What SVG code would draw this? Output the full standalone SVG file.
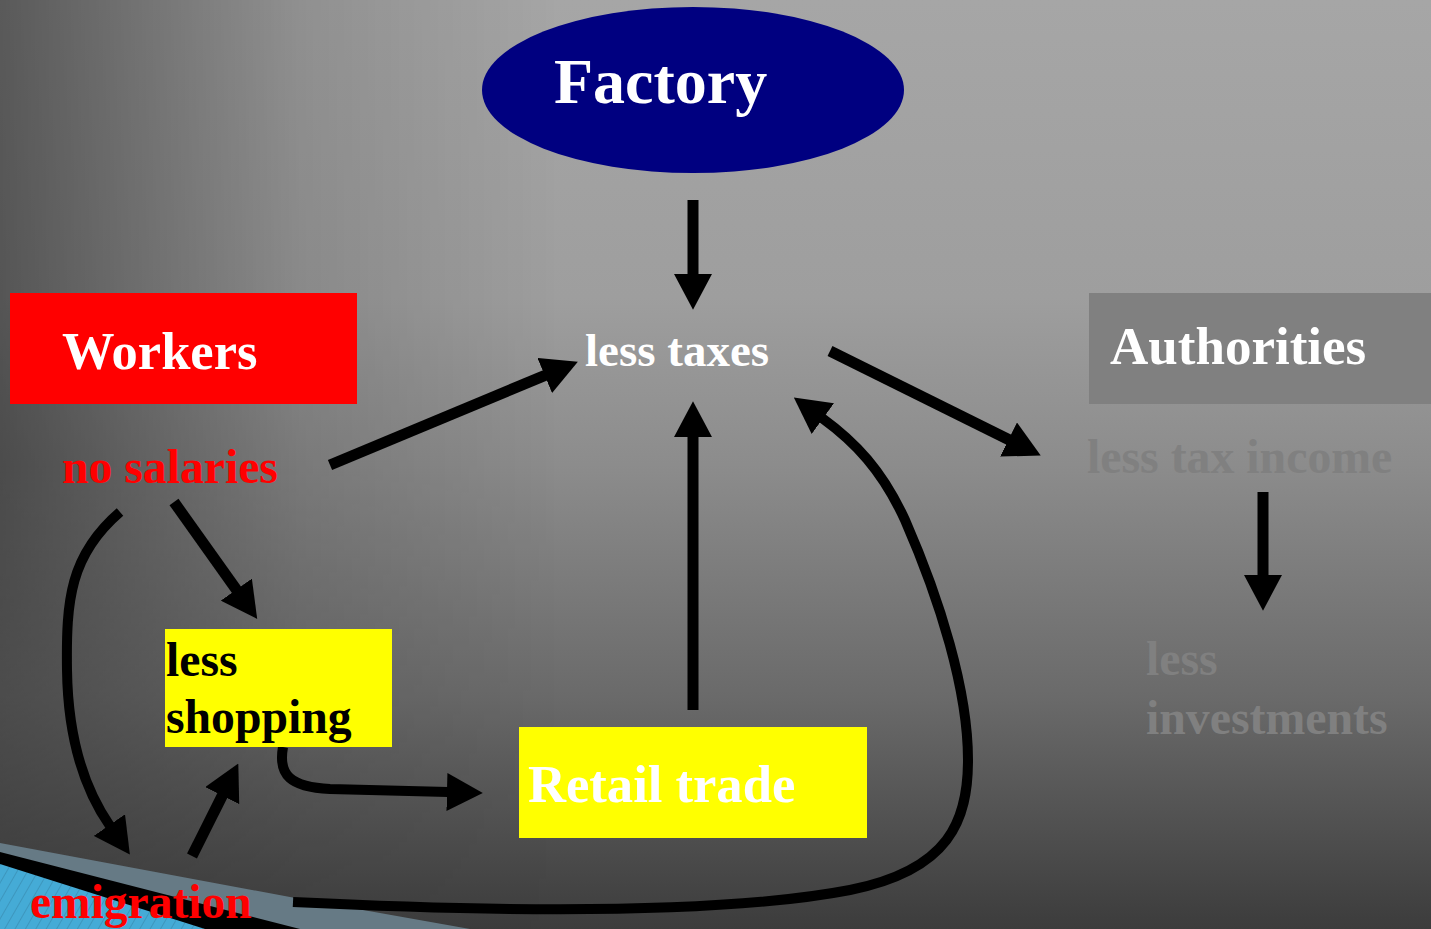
<svg xmlns="http://www.w3.org/2000/svg" width="1431" height="929" viewBox="0 0 1431 929">
<style>
.t{font-family:"Liberation Serif","Times New Roman",serif;font-weight:bold;}
.c{fill:none;stroke:#000;stroke-width:11;marker-end:url(#ah);}
.cc{fill:none;stroke:#000;stroke-width:10;marker-end:url(#ah);}
</style>
<defs>
<linearGradient id="bgv" x1="0" y1="0" x2="0" y2="1">
<stop offset="0" stop-color="#a6a6a6"/>
<stop offset="0.32" stop-color="#9e9e9e"/>
<stop offset="0.5" stop-color="#8c8c8c"/>
<stop offset="0.75" stop-color="#6a6a6a"/>
<stop offset="1" stop-color="#3c3c3c"/>
</linearGradient>
<linearGradient id="bgh" x1="0" y1="0" x2="1" y2="0">
<stop offset="0" stop-color="#000" stop-opacity="0.46"/>
<stop offset="0.21" stop-color="#000" stop-opacity="0.13"/>
<stop offset="0.39" stop-color="#000" stop-opacity="0"/>
<stop offset="1" stop-color="#000" stop-opacity="0"/>
</linearGradient>
<linearGradient id="mv" x1="0" y1="0" x2="0" y2="1">
<stop offset="0" stop-color="#fff"/>
<stop offset="0.5" stop-color="#fff"/>
<stop offset="0.65" stop-color="#ccc"/>
<stop offset="1" stop-color="#262626"/>
</linearGradient>
<mask id="vm"><rect width="1431" height="929" fill="url(#mv)"/></mask>
<pattern id="hatch" width="9" height="9" patternUnits="userSpaceOnUse" patternTransform="rotate(30)">
<rect width="9" height="9" fill="#45abd6"/>
<line x1="0" y1="0" x2="0" y2="9" stroke="#3a8fb5" stroke-width="1.5"/>
</pattern>
<marker id="ah" markerUnits="userSpaceOnUse" markerWidth="36" markerHeight="38" viewBox="0 0 34 36" refX="1" refY="18" orient="auto">
<path d="M0,0 L34,18 L0,36 z" fill="#000"/>
</marker>
</defs>
<rect width="1431" height="929" fill="url(#bgv)"/>
<rect width="1431" height="929" fill="url(#bgh)" mask="url(#vm)"/>
<g id="decoration">
<polygon points="0,843 290,897 470,929 0,929" fill="#667a85"/>
<polygon points="0,852 300,929 0,929" fill="#000"/>
<polygon points="0,864 205,929 0,929" fill="url(#hatch)"/>
</g>
<g id="connectors">
<line class="c" x1="693" y1="200" x2="693" y2="275"/>
<line class="c" x1="330" y1="465" x2="545.7" y2="375.1"/>
<line class="c" x1="830" y1="351" x2="1009.5" y2="440"/>
<line class="c" x1="174" y1="502" x2="237" y2="590.5"/>
<path class="cc" d="M120,512 C70,555 66,600 67,670 S85,790 110,826"/>
<line class="c" x1="192" y1="856" x2="222.7" y2="794.7"/>
<path class="cc" d="M283,747 C278,775 290,787 330,789 L448,792"/>
<line class="c" x1="693" y1="710" x2="693" y2="436"/>
<path class="cc" d="M293,902 C500,912 720,915 850,890 C950,870 968,820 968,760 C968,690 940,600 905,520 C882,470 855,442 822,418"/>
<line class="c" x1="1263" y1="492" x2="1263" y2="576"/>
</g>
<g id="factory">
<ellipse cx="693" cy="90" rx="211" ry="83" fill="#000080"/>
<text class="t" x="554" y="103" font-size="64" fill="#fff">Factory</text>
</g>
<g id="less-taxes">
<text class="t" x="585" y="366" font-size="47" fill="#fff">less taxes</text>
</g>
<g id="workers">
<rect x="10" y="293" width="347" height="111" fill="#ff0000"/>
<text class="t" x="62" y="369" font-size="52.5" fill="#fff">Workers</text>
</g>
<g id="no-salaries">
<text class="t" x="62" y="483" font-size="47.7" fill="#ff0000">no salaries</text>
</g>
<g id="authorities">
<rect x="1089" y="293" width="342" height="111" fill="#808080"/>
<text class="t" x="1110" y="364" font-size="53" fill="#fff">Authorities</text>
</g>
<g id="less-tax-income">
<text class="t" x="1087" y="473" font-size="47.8" fill="#808080">less tax income</text>
</g>
<g id="less-investments">
<text class="t" font-size="47.8" fill="#808080"><tspan x="1146" y="675">less</tspan><tspan x="1146" y="734">investments</tspan></text>
</g>
<g id="less-shopping">
<rect x="165" y="629" width="227" height="118" fill="#ffff00"/>
<text class="t" font-size="47.7" fill="#000"><tspan x="166" y="676">less</tspan><tspan x="166" y="733">shopping</tspan></text>
</g>
<g id="retail-trade">
<rect x="519" y="727" width="348" height="111" fill="#ffff00"/>
<text class="t" x="528" y="802" font-size="52.6" fill="#fff">Retail trade</text>
</g>
<g id="emigration">
<text class="t" x="30" y="918" font-size="47.5" fill="#ff0000">emigration</text>
</g>
</svg>
